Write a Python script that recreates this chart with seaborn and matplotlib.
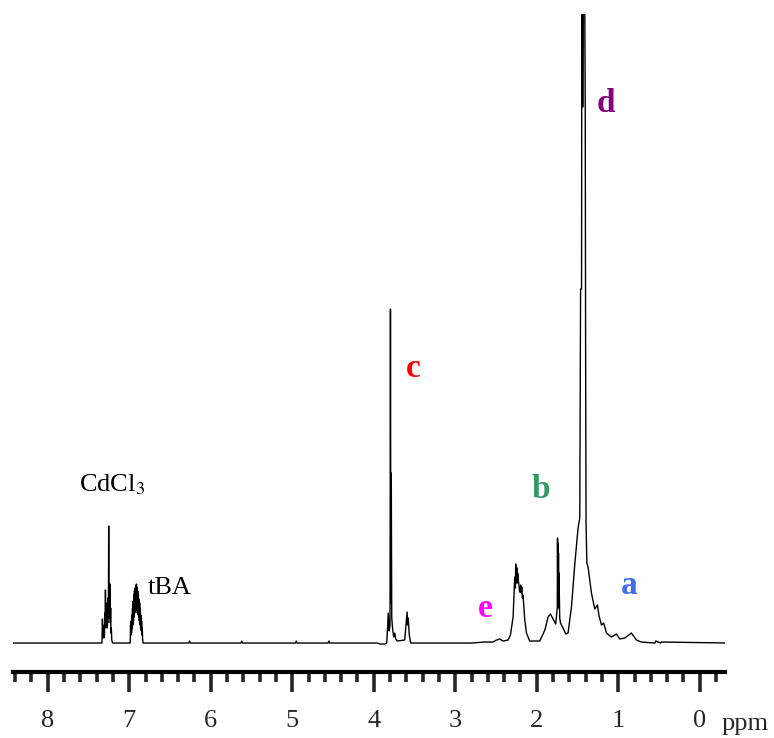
import matplotlib
matplotlib.use("Agg")
import matplotlib.pyplot as plt
from matplotlib.ticker import MultipleLocator
import seaborn as sns

# Spectrum trace: chemical shift (ppm) and signal height
ppm = [
    8.45, 8.10, 7.50, 7.362,
    # CDCl3 multiplet
    7.335, 7.329, 7.322, 7.316, 7.312, 7.308, 7.304, 7.300, 7.296, 7.292, 7.288, 7.284,
    7.280, 7.276, 7.272, 7.268, 7.264, 7.260, 7.256, 7.252, 7.248, 7.244, 7.240, 7.236,
    7.232, 7.228, 7.224, 7.220, 7.214, 7.205,
    # tBA multiplet
    7.10, 6.988, 6.984, 6.980, 6.976, 6.972, 6.968, 6.964, 6.960, 6.956, 6.952, 6.948,
    6.944, 6.940, 6.936, 6.932, 6.928, 6.924, 6.920, 6.916, 6.912, 6.908, 6.904, 6.900,
    6.896, 6.892, 6.888, 6.884, 6.880, 6.876, 6.872, 6.868, 6.864, 6.860, 6.856, 6.852,
    6.848, 6.844, 6.840, 6.836, 6.830,
    # baseline
    6.40, 6.27, 6.26, 6.25, 5.63, 5.62, 5.61, 4.96, 4.95, 4.94, 4.56, 4.55, 4.54, 4.20,
    # peak c
    3.951, 3.926, 3.865, 3.840, 3.822, 3.810, 3.800, 3.795, 3.790, 3.785, 3.779, 3.767,
    3.755, 3.742, 3.730, 3.712, 3.620, 3.607, 3.591, 3.585, 3.577, 3.564, 3.546,
    # peaks e, b, d, a
    2.80, 2.638, 2.536, 2.494, 2.454, 2.413, 2.352, 2.323, 2.290, 2.270, 2.262, 2.258,
    2.254, 2.250, 2.246, 2.242, 2.238, 2.234, 2.225, 2.209, 2.196, 2.190, 2.184, 2.176,
    2.168, 2.147, 2.126, 2.086, 1.963, 1.900, 1.861, 1.832, 1.800, 1.767, 1.748, 1.745,
    1.742, 1.739, 1.736, 1.733, 1.730, 1.727, 1.718, 1.709, 1.677, 1.644, 1.616, 1.574,
    1.534, 1.493, 1.472, 1.462, 1.450, 1.447, 1.440, 1.436, 1.430, 1.410, 1.405, 1.400,
    1.395, 1.385, 1.370, 1.329, 1.288, 1.256, 1.235, 1.206, 1.178, 1.145, 1.083, 1.022,
    0.982, 0.920, 0.838, 0.777, 0.716, 0.55, 0.54, 0.48, 0.47, -0.35,
]
intensity = [
    0, 0, 0, 0,
    0, 24, 6, 12, 5, 18, 8, 30, 15, 53, 20, 40,
    18, 35, 15, 30, 20, 45, 25, 117, 30, 55, 25, 59,
    20, 35, 10, 15, 3, 0,
    0, 0, 18, 8, 22, 10, 28, 14, 35, 18, 42, 22,
    48, 26, 52, 30, 55, 32, 57, 34, 59, 33, 56, 30,
    52, 28, 48, 26, 44, 22, 40, 18, 34, 15, 28, 12,
    22, 8, 15, 4, 0,
    0, 0, 2, 0, 0, 2, 0, 0, 2, 0, 0, 2, 0, 0,
    0, -1, -1, 0, 30, 12, 18, 334, 40, 170, 25, 13,
    6, 10, 4, 2, 3, 15, 31, 18, 25, 8, 0,
    0, 1, 1, 3, 4, 2, 3, 8, 26, 66, 55, 79,
    60, 76, 62, 75, 60, 70, 62, 51, 58, 50, 56, 45,
    48, 23, 10, 2, 2, 13, 26, 29, 24, 19, 35, 105,
    45, 100, 40, 90, 35, 70, 25, 20, 15, 9, 10, 36,
    78, 115, 125, 354, 354, 629, 629, 536, 629, 629, 536, 280,
    120, 80, 76, 50, 34, 38, 27, 18, 20, 10, 6, 9,
    4, 5, 10, 3, 1, 0, 2, 0, 1, 0,
]

# Peak labels
label_text = ["CdCl$_3$", "tBA", "c", "d", "b", "e", "a"]
label_ppm = [7.21, 6.50, 3.52, 1.15, 1.95, 2.63, 0.86]
label_height = [158, 55, 275, 540, 154, 35, 58]
label_color = ["black", "black", "#FF0000", "#800080", "#339966", "#FF00FF", "#3F6FF0"]
label_bold = [False, False, True, True, True, True, True]

sns.set_style("white")
plt.rcParams["font.family"] = ["Liberation Serif", "DejaVu Serif"]
plt.rcParams["mathtext.fontset"] = "stix"

fig = plt.figure(figsize=(7.74, 7.38), dpi=100)
ax = fig.add_axes([0.0164, 0.0894, 0.9203, 0.8916])

sns.lineplot(x=ppm, y=intensity, sort=False, estimator=None,
             color="black", linewidth=1.0, ax=ax)

ax.set_xlim(8.43, -0.31)
ax.set_ylim(-29, 629)
ax.xaxis.set_major_locator(MultipleLocator(1))
ax.xaxis.set_minor_locator(MultipleLocator(0.2))
ax.tick_params(axis="x", which="major", direction="out", length=14.4, width=2.6,
               pad=13, labelsize=19, bottom=True)
ax.tick_params(axis="x", which="minor", direction="out", length=7, width=2.6, bottom=True)
ax.set_yticks([])
ax.set_xlabel("")
ax.set_ylabel("")
for side in ["left", "top", "right"]:
    ax.spines[side].set_visible(False)
ax.spines["bottom"].set_linewidth(3)
ax.spines["bottom"].set_color("black")

for txt, x, y, c, b in zip(label_text, label_ppm, label_height, label_color, label_bold):
    ax.text(x, y, txt, color=c, ha="center", va="center",
            fontsize=24 if b else 19, fontweight="bold" if b else "normal")

fig.text(0.9625, 0.0108, "ppm", ha="center", va="baseline", fontsize=19)

plt.savefig("out.png", dpi=100)
